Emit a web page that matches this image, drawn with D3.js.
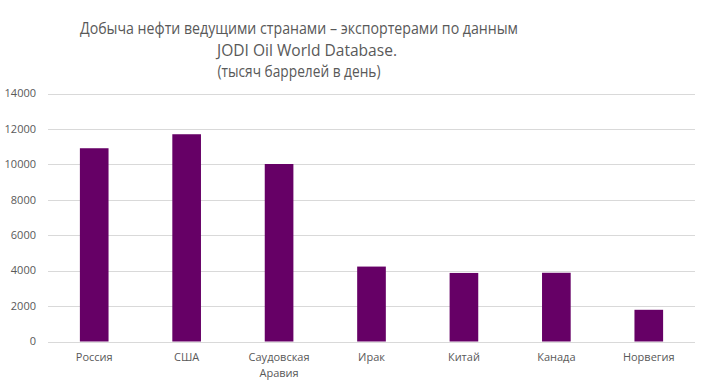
<!DOCTYPE html>
<html>
<head>
<meta charset="utf-8">
<script src="https://cdn.jsdelivr.net/npm/d3@7"></script>
<style>
  body { margin: 0; background: #fff; }
  text { font-family: "Open Sans", "DejaVu Sans", sans-serif; fill: #595959; }
</style>
</head>
<body>
<script>
// data
const countries = ['Россия', 'США', 'Саудовская Аравия', 'Ирак', 'Китай', 'Канада', 'Норвегия'];
const production = [10910, 11700, 10020, 4230, 3870, 3880, 1790];
const yTicks = [0, 2000, 4000, 6000, 8000, 10000, 12000, 14000];
const titleLines = ['Добыча нефти ведущими странами – экспортерами по данным', 'JODI Oil World Database.', '(тысяч баррелей в день)'];
const titleWidths = [438, 180, 163]; // measured widths of the narrow title font

const W = 710, H = 387;
const margin = {top: 93.5, right: 15, bottom: 45.5, left: 48};

const svg = d3.select('body').append('svg')
    .attr('width', W)
    .attr('height', H);

const x = d3.scaleBand()
    .domain(countries)
    .range([margin.left, W - margin.right])
    .paddingInner(0.69)
    .paddingOuter(0.345);

const y = d3.scaleLinear()
    .domain([0, 14000])
    .range([H - margin.bottom, margin.top]);

// gridlines
svg.append('g')
    .selectAll('line')
    .data(yTicks)
    .enter()
    .append('line')
    .attr('x1', margin.left)
    .attr('x2', W - margin.right)
    .attr('y1', d => Math.round(y(d)) + 0.5)
    .attr('y2', d => Math.round(y(d)) + 0.5)
    .attr('stroke', '#d9d9d9')
    .attr('stroke-width', 1);

// y tick labels
svg.append('g')
    .selectAll('text')
    .data(yTicks)
    .enter()
    .append('text')
    .attr('x', 36)
    .attr('y', d => y(d))
    .attr('dy', '0.35em')
    .attr('text-anchor', 'end')
    .style('font-size', '11px')
    .text(d => d);

// bars
svg.append('g')
    .selectAll('rect')
    .data(production)
    .enter()
    .append('rect')
    .attr('x', (d, i) => x(countries[i]))
    .attr('width', x.bandwidth())
    .attr('y', d => y(d))
    .attr('height', d => y(0) - y(d))
    .attr('fill', '#660066');

// category labels (wrap on space for long names)
const catG = svg.append('g')
    .selectAll('text')
    .data(countries)
    .enter()
    .append('text')
    .attr('text-anchor', 'middle')
    .style('font-size', '11px');

catG.each(function(d) {
    const parts = d.length > 10 ? d.split(' ') : [d];
    const t = d3.select(this);
    parts.forEach((p, j) => {
        t.append('tspan')
            .attr('x', x(d) + x.bandwidth() / 2)
            .attr('y', 361 + j * 15.5)
            .text(p);
    });
});

// title
svg.append('g')
    .selectAll('text')
    .data(titleLines)
    .enter()
    .append('text')
    .attr('x', (d, i) => i == 1 ? 307 : 299)
    .attr('y', (d, i) => 34 + i * 21.5)
    .attr('text-anchor', 'middle')
    .attr('textLength', (d, i) => titleWidths[i])
    .attr('lengthAdjust', 'spacingAndGlyphs')
    .style('font-size', '17px')
    .text(d => d);
</script>
</body>
</html>
